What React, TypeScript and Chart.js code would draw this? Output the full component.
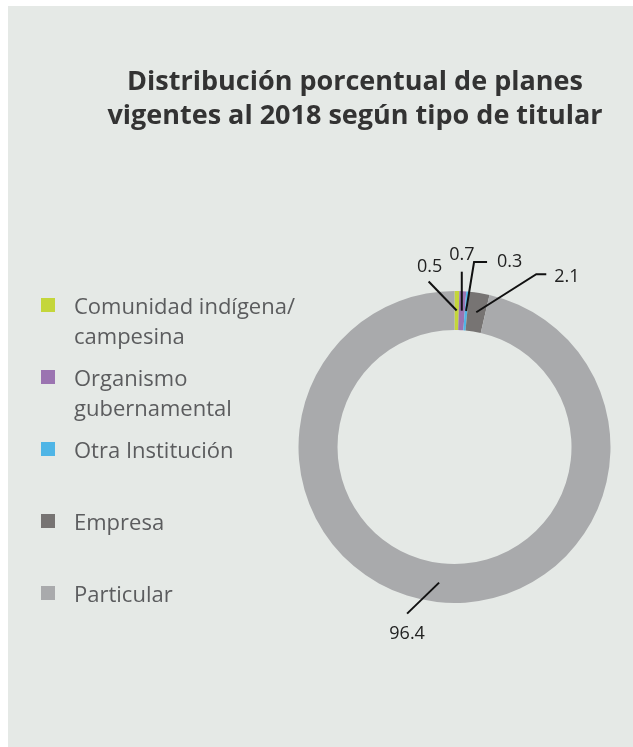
import React, { useEffect, useRef } from "react";
import { Chart, registerables } from "chart.js";

Chart.register(...registerables);

// ---- data ----
const categories: string[][] = [
  ["Comunidad indígena/", "campesina"],
  ["Organismo", "gubernamental"],
  ["Otra Institución"],
  ["Empresa"],
  ["Particular"],
];
const values: number[] = [0.5, 0.7, 0.3, 2.1, 96.4];
const valueLabels: string[] = ["0.5", "0.7", "0.3", "2.1", "96.4"];
const titleLines: string[] = [
  "Distribución porcentual de planes",
  "vigentes al 2018 según tipo de titular",
];

// ---- styles ----
const colors = ["#c4d63a", "#9b74b1", "#4fb5e6", "#777473", "#a9aaac"];
const BG = "#e5e9e6";
const W = 625;
const H = 741;

// leader lines: polyline offsets from the arc anchor, text offset from last point
const leaders: { pts: number[][]; text: number[]; align: CanvasTextAlign }[] = [
  { pts: [[-28, -29]], text: [1, -15], align: "center" },
  { pts: [[0, -39]], text: [0, -17], align: "center" },
  { pts: [[8, -49], [21, -49]], text: [10, 0], align: "left" },
  { pts: [[60, -38], [70, -38]], text: [8, 3], align: "left" },
  { pts: [[-32, 31]], text: [0, 20], align: "center" },
];

const overlayPlugin = {
  id: "overlay",
  afterDraw(chart: any) {
    const ctx: CanvasRenderingContext2D = chart.ctx;
    ctx.save();
    // Title
    ctx.fillStyle = "#333333";
    ctx.font = "bold 27px 'Open Sans'";
    ctx.textAlign = "center";
    ctx.textBaseline = "alphabetic";
    titleLines.forEach((t, i) => ctx.fillText(t, 347, 84 + i * 34));

    // Legend
    const labels = chart.data.labels as string[][];
    const bg = chart.data.datasets[0].backgroundColor as string[];
    labels.forEach((lines, i) => {
      const cy = 299 + i * 72;
      ctx.fillStyle = bg[i];
      ctx.fillRect(33, cy - 7, 14, 14);
      ctx.fillStyle = "#5b5c5e";
      ctx.font = "22px 'Open Sans'";
      ctx.textAlign = "left";
      ctx.textBaseline = "alphabetic";
      lines.forEach((l, j) => ctx.fillText(l, 66, cy + 9 + j * 30));
    });

    // Value labels with leader lines
    const meta = chart.getDatasetMeta(0);
    meta.data.forEach((arc: any, i: number) => {
      const p = arc.getProps(["x", "y", "startAngle", "endAngle", "innerRadius", "outerRadius"], true);
      const a = (p.startAngle + p.endAngle) / 2;
      const r = (p.innerRadius + p.outerRadius) / 2;
      const ax = p.x + Math.cos(a) * r;
      const ay = p.y + Math.sin(a) * r;
      const L = leaders[i];
      ctx.strokeStyle = "#111111";
      ctx.lineWidth = 2;
      ctx.beginPath();
      ctx.moveTo(ax, ay);
      let lx = ax, ly = ay;
      L.pts.forEach(([dx, dy]) => {
        lx = ax + dx;
        ly = ay + dy;
        ctx.lineTo(lx, ly);
      });
      ctx.stroke();
      ctx.fillStyle = "#222222";
      ctx.font = "18px 'Open Sans'";
      ctx.textAlign = L.align;
      ctx.textBaseline = "middle";
      ctx.fillText(valueLabels[i], lx + L.text[0], ly + L.text[1]);
    });
    ctx.restore();
  },
};

export default function App() {
  const ref = useRef<HTMLCanvasElement | null>(null);
  useEffect(() => {
    if (!ref.current) return;
    const chart = new Chart(ref.current, {
      type: "doughnut",
      data: {
        labels: categories as any,
        datasets: [
          {
            data: values,
            backgroundColor: colors,
            borderWidth: 0,
          },
        ],
      },
      options: {
        animation: false,
        responsive: false,
        devicePixelRatio: 1,
        cutout: "75%",
        events: [],
        layout: { padding: { left: 290.5, top: 285, right: 22.5, bottom: 144 } },
        plugins: {
          legend: { display: false },
          tooltip: { enabled: false },
          title: { display: false },
        },
      },
      plugins: [overlayPlugin],
    });
    return () => chart.destroy();
  }, []);
  return (
    <div style={{ position: "absolute", left: 8, top: 6, width: W, height: H, background: BG, overflow: "hidden" }}>
      <canvas ref={ref} width={W} height={H} style={{ display: "block" }} />
    </div>
  );
}
